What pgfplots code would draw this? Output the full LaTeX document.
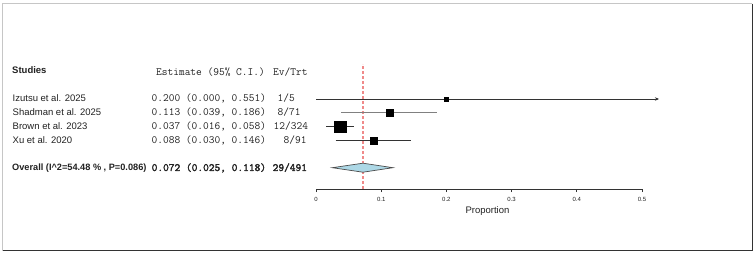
\documentclass[border=0pt]{standalone}
\usepackage{pgfplots}
\pgfplotsset{compat=1.18}
\usepackage{pgfplotstable}
\usepackage{fontspec}
\setmainfont{Liberation Sans}
\newfontfamily\mboldfont{Latin Modern Mono}[FakeBold=2.2]
\usetikzlibrary{arrows.meta}
\definecolor{txt}{HTML}{222222}
\definecolor{cil}{HTML}{333333}
\definecolor{diam}{HTML}{ADD8E6}
\definecolor{refred}{HTML}{F08A8A}

% y = height (px) above the x-axis line
\pgfplotstableread{
y    est   lo    hi    ms
90   0.200 0.000 0.551 1.8
76.3 0.113 0.039 0.186 3.2
62.3 0.037 0.016 0.058 5.8
48.3 0.088 0.030 0.146 3.4
}\studies

\newcommand{\sz}{\fontsize{9.5}{11}\selectfont}
\newcommand{\mz}{\fontsize{11.1}{12}\selectfont\ttfamily}
\newcommand{\mbz}{\fontsize{11.1}{12}\selectfont\mboldfont}

\begin{document}
\begin{tikzpicture}
\useasboundingbox (0,0) rectangle (756pt,-254pt);
\fill[white] (0,0) rectangle (756pt,-254pt);
% frame
\draw[gray!45, line width=1.3pt] (2.6pt,-250.5pt) -- (2.6pt,-3.6pt) -- (752.4pt,-3.6pt);
\draw[black!80, line width=1.3pt] (752.4pt,-3.6pt) -- (752.4pt,-250.5pt) -- (2.6pt,-250.5pt);

\begin{axis}[
  at={(316pt,-189pt)}, anchor=south west,
  scale only axis, width=326pt, height=126pt,
  xmin=0, xmax=0.5, ymin=0, ymax=126,
  clip=false,
  axis x line=bottom, x axis line style={-, cil, line width=0.8pt},
  hide y axis,
  xtick={0,0.1,0.2,0.3,0.4,0.5},
  xticklabels={0,0.1,0.2,0.3,0.4,0.5},
  tick align=outside, major tick length=3pt,
  xtick style={cil, line width=0.8pt},
  xticklabel style={font=\fontsize{6}{7}\selectfont, text=txt, yshift=-1.5pt},
  /pgf/number format/assume math mode=true,
  xlabel={Proportion},
  xlabel style={font=\fontsize{9.5}{11}\selectfont, text=txt, xshift=8.5pt, yshift=2pt},
]
% reference line at overall estimate
\addplot[refred, line width=1.4pt, dash pattern=on 3pt off 2pt] coordinates {(0.072,0) (0.072,125)};
% confidence intervals
\addplot[cil, line width=0.9pt, -{Stealth[length=4pt,width=3.5pt]}] coordinates {(0.000,90) (0.526,90)};
\addplot[gray, line width=0.9pt] coordinates {(0.039,76.3) (0.186,76.3)};
\addplot[cil, line width=0.9pt] coordinates {(0.016,62.3) (0.058,62.3)};
\addplot[cil, line width=0.9pt] coordinates {(0.030,48.3) (0.146,48.3)};
% study estimates, square size by weight
\addplot[scatter, only marks, mark=square*,
  scatter/use mapped color={draw=black, fill=black},
  visualization depends on={\thisrow{ms} \as \perpointmarksize},
  scatter/@pre marker code/.append style={/tikz/mark size=\perpointmarksize}]
  table[x=est, y=y] {\studies};
% overall diamond
\addplot[fill=diam, draw=black!70, line width=0.7pt] coordinates {(0.025,21.3) (0.072,25.8) (0.118,21.3) (0.072,16.8)} -- cycle;
\end{axis}

% left-hand table
\begin{scope}[every node/.style={anchor=base west, inner sep=0pt, text=txt}]
\node at (12pt,-74pt) {\sz\bfseries Studies};
\node at (156pt,-75.5pt) {\mz Estimate (95\% C.I.)};
\node at (273pt,-75.5pt) {\mz Ev/Trt};

\node at (12.5pt,-102pt) {\sz Izutsu et al. 2025};
\node at (12.5pt,-115.7pt) {\sz Shadman et al. 2025};
\node at (12.5pt,-129.7pt) {\sz Brown et al. 2023};
\node at (12.5pt,-143.7pt) {\sz Xu et al. 2020};

\node at (151.5pt,-102pt) {\mz 0.200 (0.000, 0.551)};
\node at (151.5pt,-115.7pt) {\mz 0.113 (0.039, 0.186)};
\node at (151.5pt,-129.7pt) {\mz 0.037 (0.016, 0.058)};
\node at (151.5pt,-143.7pt) {\mz 0.088 (0.030, 0.146)};

\node at (277.5pt,-102pt) {\mz 1/5};
\node at (277.5pt,-115.7pt) {\mz 8/71};
\node at (273.5pt,-129.7pt) {\mz 12/324};
\node at (283.5pt,-143.7pt) {\mz 8/91};

\node at (12pt,-171pt) {\fontsize{9.2}{11}\selectfont\bfseries Overall (I\textasciicircum 2=54.48 \% , P=0.086)};
\node at (151.5pt,-171pt) {\mbz 0.072 (0.025, 0.118)};
\node at (272.5pt,-171pt) {\mbz 29/491};
\end{scope}
\end{tikzpicture}
\end{document}
